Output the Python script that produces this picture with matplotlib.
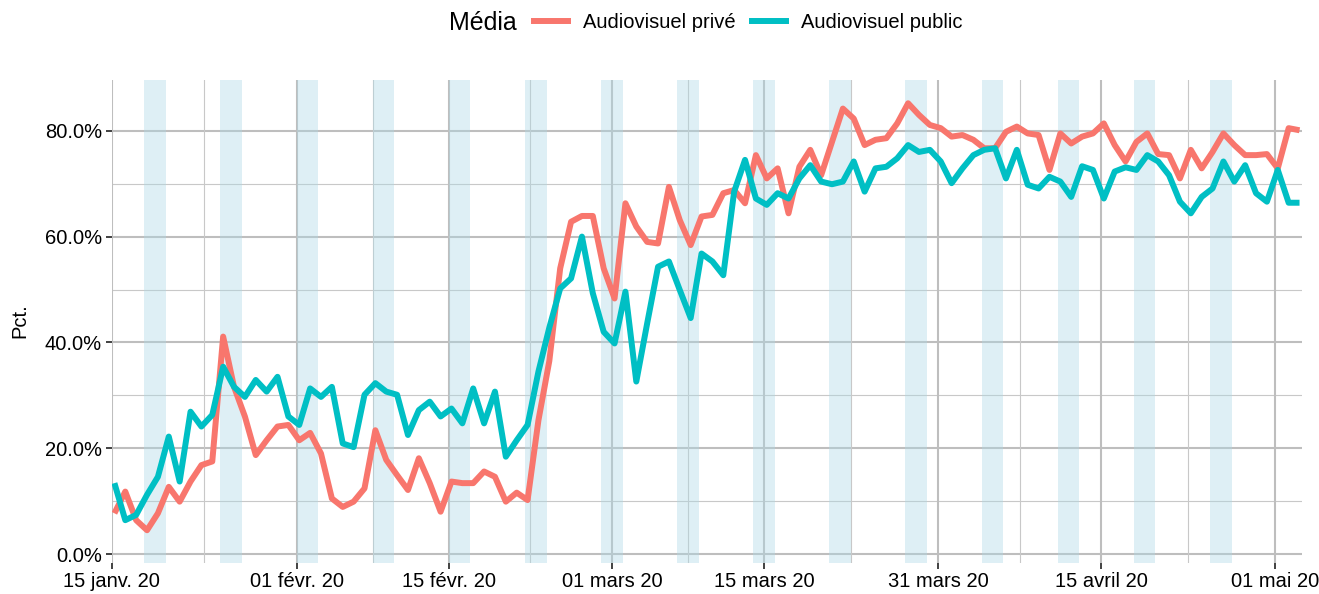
import numpy as np
import pandas as pd
import matplotlib
matplotlib.use('Agg')
import matplotlib.pyplot as plt
import matplotlib.dates as mdates
from matplotlib.lines import Line2D
from matplotlib.ticker import FixedLocator, FuncFormatter

plt.rcParams['font.family'] = ['Liberation Sans', 'DejaVu Sans']

# daily share (%) from 15 janv. 2020 to 03 mai 2020
start_date = '2020-01-15'
prive = [7.7, 11.8, 6.4, 4.5, 7.7, 12.7, 9.9, 13.7, 16.8, 17.5,
         41.1, 31.6, 26.0, 18.7, 21.5, 24.1, 24.4, 21.5, 22.9, 19.0,
         10.5, 8.9, 9.9, 12.4, 23.4, 17.8, 14.9, 12.1, 18.1, 13.4,
         8.0, 13.7, 13.4, 13.4, 15.6, 14.6, 9.9, 11.6, 10.2, 25.3,
         36.5, 54.0, 62.8, 63.9, 63.9, 54.0, 48.3, 66.3, 61.9, 59.0,
         58.7, 69.4, 63.1, 58.4, 63.8, 64.1, 68.2, 68.8, 66.3, 75.4,
         71.0, 72.9, 64.4, 73.2, 76.4, 71.6, 77.9, 84.2, 82.3, 77.3,
         78.3, 78.6, 81.4, 85.2, 83.0, 81.1, 80.5, 78.9, 79.2, 78.3,
         76.7, 76.7, 79.8, 80.8, 79.5, 79.2, 72.6, 79.5, 77.6, 78.9,
         79.5, 81.4, 77.3, 74.2, 77.9, 79.5, 75.6, 75.4, 71.0, 76.4,
         72.9, 76.0, 79.5, 77.3, 75.4, 75.4, 75.6, 72.9, 80.5, 80.1]
public = [13.4, 6.4, 7.4, 11.2, 14.6, 22.2, 13.7, 26.9, 24.1, 26.3,
          35.4, 31.6, 29.7, 32.9, 30.7, 33.5, 26.0, 24.4, 31.3, 29.7,
          31.6, 20.9, 20.2, 30.1, 32.3, 30.7, 30.1, 22.5, 27.2, 28.8,
          26.0, 27.5, 24.7, 31.3, 24.7, 30.7, 18.4, 21.5, 24.4, 34.5,
          42.8, 50.2, 52.1, 60.0, 49.3, 42.0, 39.8, 49.6, 32.6, 43.6,
          54.3, 55.3, 49.9, 44.6, 56.8, 55.3, 52.7, 68.5, 74.5, 67.2,
          66.0, 68.2, 67.2, 71.0, 73.5, 70.4, 69.9, 70.4, 74.2, 68.5,
          72.9, 73.2, 74.8, 77.3, 76.0, 76.4, 74.2, 70.1, 72.9, 75.4,
          76.4, 76.7, 71.0, 76.4, 69.8, 69.1, 71.3, 70.4, 67.5, 73.3,
          72.6, 67.2, 72.3, 73.1, 72.6, 75.4, 74.2, 71.6, 66.6, 64.4,
          67.5, 69.1, 74.2, 70.4, 73.5, 68.2, 66.6, 72.6, 66.4, 66.4]

weekends = ['2020-01-18', '2020-01-25', '2020-02-01', '2020-02-08', '2020-02-15',
            '2020-02-22', '2020-02-29', '2020-03-07', '2020-03-14', '2020-03-21',
            '2020-03-28', '2020-04-04', '2020-04-11', '2020-04-18', '2020-04-25']

tick_dates = ['2020-01-15', '2020-02-01', '2020-02-15', '2020-03-01',
              '2020-03-15', '2020-03-31', '2020-04-15', '2020-05-01']
tick_labels = ['15 janv. 20', '01 févr. 20', '15 févr. 20', '01 mars 20',
               '15 mars 20', '31 mars 20', '15 avril 20', '01 mai 20']

series_names = ['Audiovisuel privé', 'Audiovisuel public']
colors = ['#F8766D', '#00BFC4']


def run():

    dates = pd.date_range(start_date, periods=len(prive), freq='D') + pd.Timedelta(hours=6)
    x = mdates.date2num(dates)

    fig = plt.figure(figsize=(13.19, 5.94), dpi=100)
    ax = fig.add_axes([111.7/1319, 1 - 562.7/594, (1301.7 - 111.7)/1319, (562.7 - 80)/594])

    major_x = mdates.date2num(pd.to_datetime(tick_dates))
    minor_x = (major_x[:-1] + major_x[1:]) / 2

    # grid
    for v in [0, 20, 40, 60, 80]:
        ax.axhline(v, color='#BEBEBE', lw=1.5, zorder=1)
    for v in [10, 30, 50, 70]:
        ax.axhline(v, color='#C8C8C8', lw=0.8, zorder=1)
    for v in major_x:
        ax.axvline(v, color='#BEBEBE', lw=1.5, zorder=1)
    for v in minor_x:
        ax.axvline(v, color='#C8C8C8', lw=0.8, zorder=1)

    # weekend bands
    for d in weekends:
        d0 = mdates.date2num(pd.Timestamp(d))
        ax.axvspan(d0, d0 + 2, color='#ADD8E6', alpha=0.4, lw=0, zorder=2)

    for vals, name, c in zip([prive, public], series_names, colors):
        ax.plot(x, vals, color=c, lw=4.3, solid_joinstyle='round',
                solid_capstyle='butt', zorder=3, label=name)

    ax.set_xlim(mdates.date2num(pd.Timestamp('2020-01-15')), x[-1] + 0.2)
    ax.set_ylim(-1.64, 89.6)

    ax.xaxis.set_major_locator(FixedLocator(major_x))
    ax.set_xticklabels(tick_labels)
    ax.yaxis.set_major_locator(FixedLocator([0, 20, 40, 60, 80]))
    ax.yaxis.set_major_formatter(FuncFormatter(lambda v, p: '{:.1f}%'.format(v)))

    ax.tick_params(axis='both', length=4, width=1.3, color='#333333',
                   labelsize=14.5, labelcolor='black', pad=3)
    for s in ax.spines.values():
        s.set_visible(False)

    fig.text(20/1319, 1 - 321/594, 'Pct.', rotation=90, fontsize=14.5,
             ha='center', va='center')

    fig.text(517/1319, 1 - 23/594, 'Média', fontsize=18, ha='right', va='center')
    handles = [Line2D([], [], color=c, lw=4.3) for c in colors]
    fig.legend(handles, series_names, loc='center left',
               bbox_to_anchor=(534/1319, 1 - 23/594), ncol=2, frameon=False,
               fontsize=14.5, handlelength=1.7, handletextpad=0.75,
               columnspacing=0.8, borderpad=0, borderaxespad=0)

    fig.savefig('out.png', dpi=100)


run()
